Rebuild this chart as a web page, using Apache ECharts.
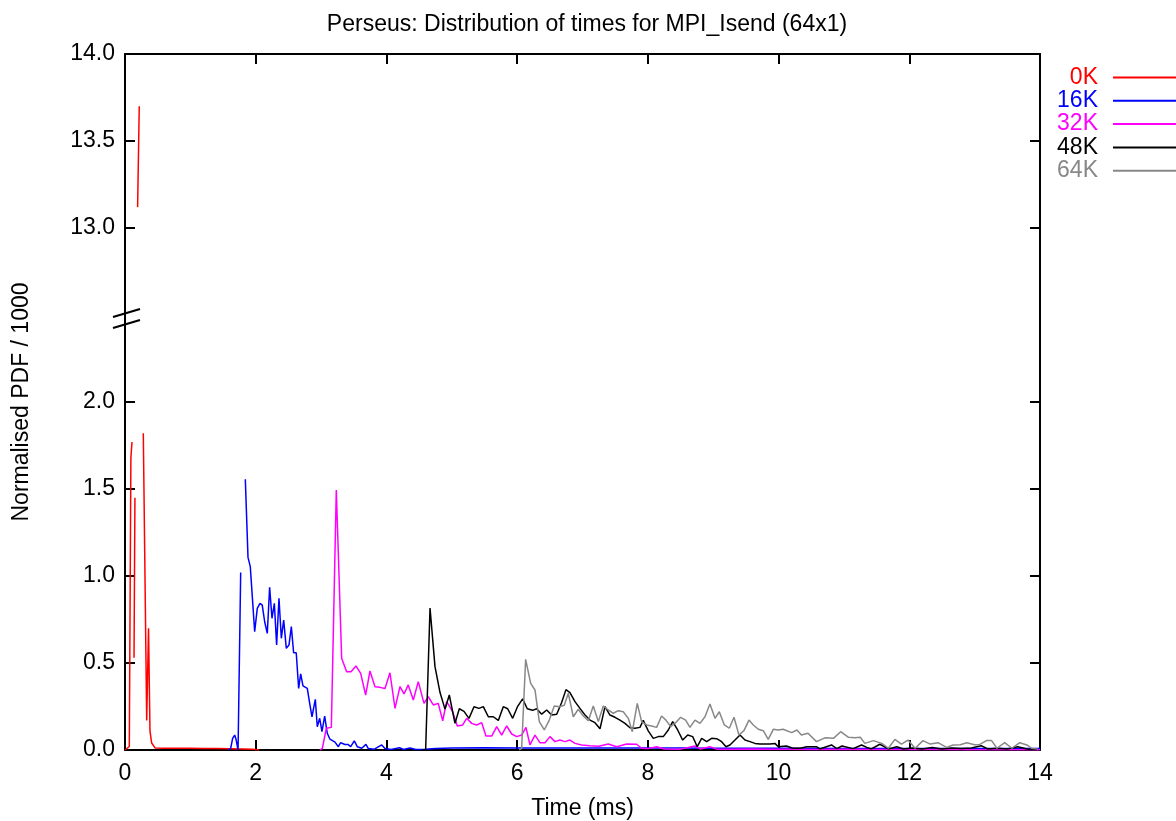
<!DOCTYPE html>
<html><head><meta charset="utf-8">
<script src="https://cdn.jsdelivr.net/npm/echarts@6/dist/echarts.min.js"></script>
<style>html,body{margin:0;padding:0;background:#fff}#c{width:1176px;height:821px}</style>
</head><body><div id="c"></div><script>
// ---- data (time in ms, normalised PDF / 1000); null = point outside both visible ranges ----
const seriesNames = ['0K', '16K', '32K', '48K', '64K'];
const seriesColors = ['#ff0000', '#0000ff', '#ff00ff', '#000000', '#888888'];
const xTicks = [0, 2, 4, 6, 8, 10, 12, 14];
const yTicksLow = [0.0, 0.5, 1.0, 1.5, 2.0];
const yTicksHigh = [13.0, 13.5, 14.0];
const breakLow = 2.5, breakHigh = 12.5;

const d0K = [[0.0,0],[0.03,0],[0.066,0.02],[0.09,1.68],[0.107,1.77],[0.125,null],[0.138,0.53],[0.152,1.45],[0.17,null],
 [0.193,13.12],[0.218,13.7],[0.25,null],[0.28,1.82],[0.332,0.17],[0.36,0.70],[0.382,0.11],[0.408,0.04],[0.46,0.012],
 [0.6,0.01],[0.8,0.01],[1.0,0.01],[1.2,0.008],[1.4,0.008],[1.6,0.007],[1.8,0.006],[1.95,0.004],[2.05,0]];

const d16K = [[1.58,0],[1.617,0.01],[1.647,0.067],[1.678,0.086],[1.70,0.06],[1.73,0],[1.77,1.02],[1.80,null],
 [1.841,1.556],[1.882,1.107],[1.917,1.054],[1.984,0.680],[2.024,0.814],[2.065,0.843],[2.10,0.833],[2.137,0.737],
 [2.177,0.670],[2.213,0.935],[2.249,0.757],[2.285,0.843],[2.32,0.603],[2.356,0.872],[2.392,0.642],[2.428,0.747],
 [2.468,0.584],[2.509,0.603],[2.545,0.709],[2.58,0.559],[2.62,0.559],[2.657,0.354],[2.688,0.437],[2.723,0.368],
 [2.789,0.354],[2.826,0.268],[2.861,0.191],[2.912,0.291],[2.942,0.134],[2.979,0.182],[3.014,0.105],[3.055,0.195],
 [3.095,0.096],[3.136,0.062],[3.213,0.045],[3.264,0.019],[3.30,0.042],[3.366,0.032],[3.41,0.032],[3.453,0.019],
 [3.508,0.052],[3.554,0.019],[3.622,0.01],[3.687,0.032],[3.723,0.008],[3.81,0.004],[3.927,0.029],[3.978,0.008],
 [4.07,0.003],[4.2,0.013],[4.26,0.003],[4.36,0.012],[4.45,0.003],[4.6,0.004],[4.75,0.008],[5.0,0.012],[5.5,0.013],
 [6.0,0.012],[6.5,0.012],[7.0,0.012],[7.5,0.012],[8.0,0.011],[8.5,0.011],[9.0,0.01],[9.5,0.01],[10.0,0.01],
 [11.0,0.009],[12.0,0.008],[13.0,0.008],[14.0,0.008]];

const d32K = [[2.98,0],[3.02,0.01],[3.08,0.125],[3.157,0.13],[3.233,1.494],[3.315,0.527],[3.391,0.45],[3.458,0.45],
 [3.534,0.483],[3.606,0.44],[3.682,0.316],[3.748,0.454],[3.825,0.364],[3.901,0.36],[3.978,0.354],[4.054,0.444],
 [4.131,0.239],[4.207,0.364],[4.269,0.322],[4.334,0.374],[4.411,0.287],[4.487,0.393],[4.575,0.268],[4.64,0.306],
 [4.717,0.259],[4.793,0.268],[4.861,0.168],[4.922,0.278],[5.013,0.22],[5.084,0.138],[5.167,0.144],[5.228,0.182],
 [5.304,0.153],[5.381,0.144],[5.458,0.157],[5.523,0.08],[5.611,0.08],[5.687,0.134],[5.763,0.086],[5.84,0.138],
 [5.917,0.092],[5.993,0.077],[6.069,0.086],[6.135,0.13],[6.196,0.029],[6.273,0.086],[6.349,0.042],[6.426,0.042],
 [6.502,0.077],[6.579,0.048],[6.655,0.057],[6.732,0.048],[6.808,0.057],[6.885,0.038],[6.987,0.029],[7.114,0.025],
 [7.25,0.022],[7.394,0.034],[7.523,0.019],[7.676,0.034],[7.829,0.033],[7.905,0.01],[8.0,0.008],[8.134,0.019],
 [8.25,0.006],[8.5,0.005],[8.721,0.023],[8.8,0.006],[8.95,0.019],[9.05,0.005],[9.3,0.004],[9.6,0.006],[9.9,0.004],
 [10.2,0.005],[10.5,0.003],[11.0,0.004],[11.5,0.003],[12.0,0.003],[12.5,0.003],[13.0,0.002],[13.5,0.002],[14.0,0.002]];

const d48K = [[4.55,0],[4.6,0],[4.667,0.816],[4.743,0.479],[4.82,0.33],[4.896,0.235],[4.962,0.316],[5.049,0.153],
 [5.115,0.237],[5.187,0.222],[5.263,0.182],[5.34,0.249],[5.416,0.239],[5.482,0.249],[5.559,0.191],[5.635,0.191],
 [5.712,0.17],[5.788,0.249],[5.855,0.237],[5.932,0.182],[6.008,0.251],[6.084,0.294],[6.155,0.237],[6.237,0.228],
 [6.298,0.237],[6.375,0.206],[6.452,0.23],[6.528,0.201],[6.605,0.205],[6.681,0.273],[6.747,0.347],[6.808,0.33],
 [6.885,0.278],[6.961,0.239],[7.038,0.201],[7.115,0.172],[7.191,0.157],[7.268,0.122],[7.344,0.249],[7.42,0.201],
 [7.497,0.188],[7.573,0.172],[7.65,0.153],[7.726,0.128],[7.803,0.125],[7.879,0.13],[7.93,0.17],[8.006,0.11],
 [8.083,0.067],[8.16,0.077],[8.236,0.077],[8.313,0.115],[8.38,0.163],[8.456,0.115],[8.533,0.057],[8.61,0.086],
 [8.686,0.077],[8.756,0.019],[8.823,0.067],[8.9,0.048],[8.976,0.067],[9.053,0.065],[9.129,0.048],[9.195,0.019],
 [9.256,0.029],[9.333,0.057],[9.41,0.086],[9.486,0.057],[9.562,0.048],[9.639,0.038],[9.715,0.034],[9.79,0.034],
 [9.868,0.034],[9.945,0.038],[9.995,0.019],[10.12,0.023],[10.22,0.01],[10.33,0.01],[10.43,0.019],[10.58,0.019],
 [10.63,0.006],[10.81,0.029],[10.89,0.008],[10.97,0.023],[11.14,0.008],[11.27,0.029],[11.35,0.015],[11.42,0.006],
 [11.55,0.033],[11.68,0.006],[11.81,0.019],[11.91,0.006],[12.05,0.012],[12.2,0.006],[12.35,0.015],[12.5,0.006],
 [12.65,0.012],[12.8,0.008],[12.95,0.012],[13.1,0.025],[13.2,0.006],[13.35,0.01],[13.5,0.006],[13.66,0.019],
 [13.8,0.006],[13.95,0.004]];

const d64K = [[6.03,0],[6.069,0.01],[6.13,0.521],[6.207,0.383],[6.273,0.345],[6.339,0.163],[6.415,0.115],[6.492,0.172],
 [6.568,0.253],[6.645,0.249],[6.721,0.257],[6.783,0.326],[6.859,0.191],[6.936,0.234],[7.012,0.195],[7.089,0.168],
 [7.165,0.253],[7.242,0.163],[7.318,0.253],[7.395,0.23],[7.471,0.211],[7.548,0.226],[7.624,0.22],[7.701,0.182],
 [7.762,0.105],[7.838,0.268],[7.904,0.163],[7.981,0.144],[8.058,0.138],[8.134,0.13],[8.21,0.195],[8.277,0.172],
 [8.348,0.134],[8.425,0.157],[8.501,0.188],[8.578,0.172],[8.644,0.13],[8.721,0.172],[8.797,0.153],[8.874,0.191],
 [8.95,0.264],[9.027,0.182],[9.093,0.22],[9.17,0.144],[9.246,0.125],[9.318,0.188],[9.394,0.086],[9.47,0.111],
 [9.547,0.172],[9.613,0.144],[9.69,0.119],[9.766,0.111],[9.842,0.061],[9.919,0.119],[9.995,0.115],[10.07,0.119],
 [10.2,0.1],[10.28,0.115],[10.35,0.086],[10.45,0.096],[10.58,0.048],[10.71,0.07],[10.84,0.067],[10.95,0.105],
 [11.07,0.073],[11.17,0.071],[11.25,0.073],[11.32,0.038],[11.45,0.054],[11.58,0.038],[11.68,0.01],[11.78,0.061],
 [11.88,0.034],[11.98,0.057],[12.09,0.01],[12.21,0.054],[12.32,0.034],[12.44,0.042],[12.57,0.015],[12.67,0.029],
 [12.78,0.03],[12.88,0.042],[13.0,0.03],[13.08,0.032],[13.18,0.054],[13.26,0.054],[13.34,0.01],[13.46,0.042],
 [13.57,0.01],[13.69,0.042],[13.8,0.029],[13.87,0.01],[13.97,0.005]];

const allData = [d0K, d16K, d32K, d48K, d64K];

// ---- broken-axis mapping: values above the break are shifted down by the break width ----
const shift = breakHigh - breakLow;
const toDisp = v => (v == null ? '-' : (v > breakLow ? v - shift : v));
const tickDisp = yTicksLow.concat(yTicksHigh.map(v => v - shift));
const labelFor = d => (d <= breakLow ? d : d + shift).toFixed(1);

const FONT = 'Liberation Sans';
const FS = 23;
const chart = echarts.init(document.getElementById('c'), null, {renderer: 'canvas'});

const axisLineStyle = {color: '#000', width: 2};
const tickStyle = {show: true, inside: true, length: 10, lineStyle: {color: '#000', width: 2}};

chart.setOption({
  animation: false,
  backgroundColor: '#fff',
  title: {
    text: 'Perseus: Distribution of times for MPI_Isend (64x1)',
    left: 582, top: 8, textAlign: 'center',
    textStyle: {fontFamily: FONT, fontSize: FS, fontWeight: 'normal', color: '#000'}
  },
  legend: {
    orient: 'vertical', right: 0, top: 66, align: 'right', padding: 0,
    icon: 'rect', itemWidth: 63, itemHeight: 2, itemGap: 0.3,
    textStyle: {fontFamily: FONT, fontSize: FS, padding: [0, 10, 0, 0]},
    data: seriesNames.map((n, i) => ({name: n, textStyle: {color: seriesColors[i]}}))
  },
  grid: {left: 125, right: 136, top: 54, bottom: 71, outerBoundsMode: 'none', containLabel: false},
  xAxis: [{
    type: 'value', min: 0, max: 14, interval: 2, position: 'bottom',
    name: 'Time (ms)', nameLocation: 'middle', nameGap: 47,
    nameTextStyle: {fontFamily: FONT, fontSize: FS, color: '#000'},
    axisLine: {show: true, onZero: false, lineStyle: axisLineStyle},
    axisTick: tickStyle, splitLine: {show: false},
    axisLabel: {fontFamily: FONT, fontSize: FS, color: '#000', margin: 12,
      customValues: xTicks, formatter: v => String(v)}
  }, {
    type: 'value', min: 0, max: 14, interval: 2, position: 'top',
    axisLine: {show: true, onZero: false, lineStyle: axisLineStyle},
    axisTick: tickStyle, splitLine: {show: false}, axisLabel: {show: false}
  }],
  yAxis: [{
    type: 'value', min: 0, max: 4, interval: 0.5, position: 'left',
    name: 'Normalised PDF / 1000', nameLocation: 'middle', nameGap: 92, nameRotate: 90,
    nameTextStyle: {fontFamily: FONT, fontSize: FS, color: '#000'},
    axisLine: {show: true, onZero: false, lineStyle: axisLineStyle},
    axisTick: Object.assign({customValues: tickDisp}, tickStyle), splitLine: {show: false},
    axisLabel: {fontFamily: FONT, fontSize: FS, color: '#000', margin: 10,
      customValues: tickDisp, formatter: labelFor}
  }, {
    type: 'value', min: 0, max: 4, interval: 0.5, position: 'right',
    axisLine: {show: true, onZero: false, lineStyle: axisLineStyle},
    axisTick: Object.assign({customValues: tickDisp}, tickStyle), splitLine: {show: false},
    axisLabel: {show: false}
  }],
  series: allData.map((d, i) => ({
    name: seriesNames[i], type: 'line', xAxisIndex: 0, yAxisIndex: 0,
    symbol: 'none', connectNulls: false,
    color: seriesColors[i],
    lineStyle: {color: seriesColors[i], width: 1.5},
    data: d.map(p => [p[0], toDisp(p[1])])
  }))
});

// break marks "//" on the left axis, placed at the break through the axis scale
const x0 = chart.convertToPixel({xAxisIndex: 0}, 0);
const yb = chart.convertToPixel({yAxisIndex: 0}, breakLow);
chart.setOption({
  graphic: [
    {type: 'line', z: 100, shape: {x1: x0 - 12, y1: yb + 2, x2: x0 + 15, y2: yb - 6}, style: {stroke: '#000', lineWidth: 2}},
    {type: 'line', z: 100, shape: {x1: x0 - 12, y1: yb + 13, x2: x0 + 15, y2: yb + 5}, style: {stroke: '#000', lineWidth: 2}}
  ]
});
</script></body></html>
